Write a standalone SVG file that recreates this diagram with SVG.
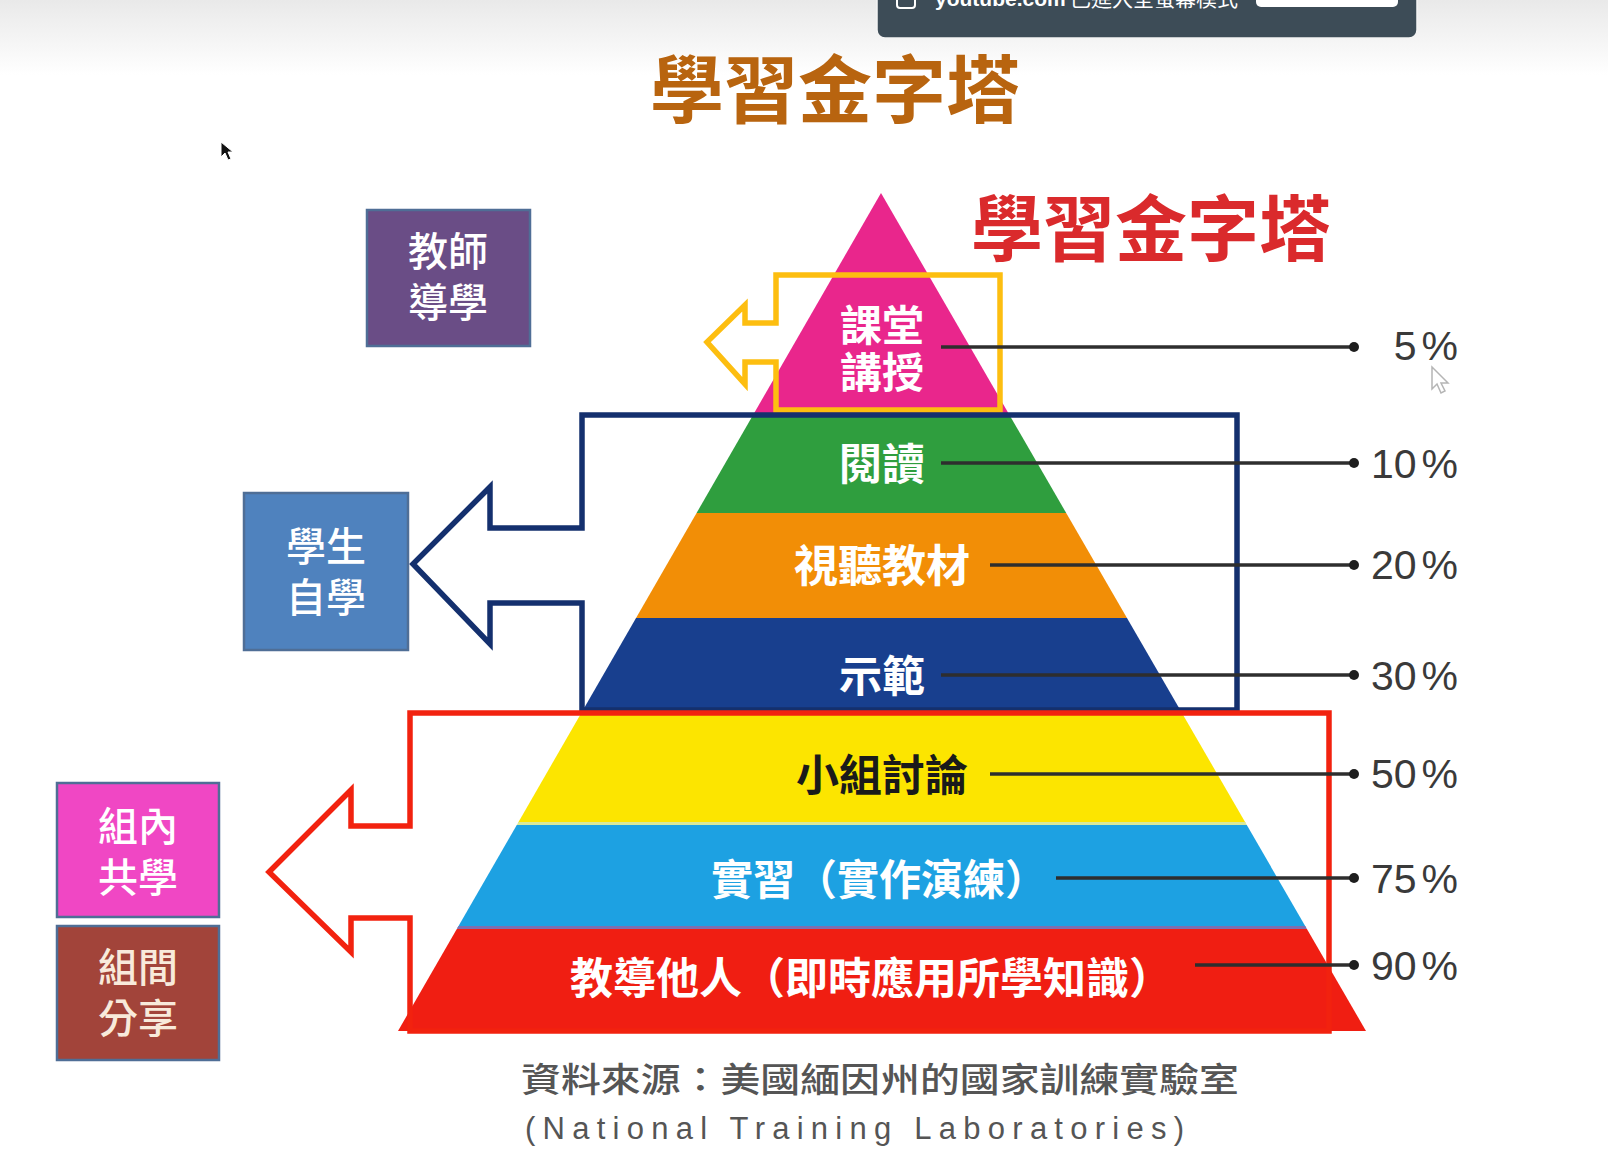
<svg xmlns="http://www.w3.org/2000/svg" width="1608" height="1163" viewBox="0 0 1608 1163">
  <style>
    .cjk { font-family: "Noto Sans CJK TC", "Noto Sans CJK SC", sans-serif; }
    .lbl { font-family: "Noto Sans CJK TC", "Noto Sans CJK SC", sans-serif; font-weight: 700; fill: #ffffff; text-anchor: middle; }
    .box { stroke: #4F6E96; stroke-width: 2.5; }
    .pct { font-family: "Liberation Sans", "Noto Sans", sans-serif; font-size: 41px; fill: #3a3a3a; text-anchor: end; }
    .lead { stroke: #2e2e2e; stroke-width: 3.5; fill: none; }
    .dot { fill: #1e1e1e; }
    .bracket { fill: none; stroke-width: 5.5; stroke-linejoin: miter; }
  </style>
  <defs>
    <linearGradient id="topfade" x1="0" y1="0" x2="0" y2="1">
      <stop offset="0" stop-color="#e9e9e9"/>
      <stop offset="1" stop-color="#ffffff"/>
    </linearGradient>
    <clipPath id="tri">
      <polygon points="881,193 398,1031 1366,1031"/>
    </clipPath>
  </defs>

  <rect x="0" y="0" width="1608" height="1163" fill="#ffffff"/>
  <rect x="0" y="0" width="1608" height="75" fill="url(#topfade)"/>

  <!-- top notification banner (cut off) -->
  <g id="banner">
    <rect x="877" y="-14" width="540" height="52" rx="8" fill="#3D4C57" stroke="#f4f4f4" stroke-width="1.5"/>
    <rect x="897" y="-12" width="18" height="20" rx="3" fill="none" stroke="#ffffff" stroke-width="2"/>
    <text x="935" y="6" font-family="Liberation Sans, sans-serif" font-weight="700" font-size="21" fill="#ffffff">youtube.com</text>
    <text x="1070" y="6" class="cjk" font-size="21" fill="#ffffff">已進入全螢幕模式</text>
    <rect x="1256" y="-20" width="142" height="27" rx="5" fill="#ffffff"/>
  </g>

  <!-- main titles -->
  <g id="title-main">
    <text x="835" y="117" class="cjk" font-size="74" font-weight="700" fill="#B8640F" text-anchor="middle">學習金字塔</text>
  </g>
  <g id="title-second">
    <text x="1151" y="255" class="cjk" font-size="72" font-weight="700" fill="#DA2A2C" text-anchor="middle">學習金字塔</text>
  </g>

  <!-- pyramid -->
  <g id="pyramid" clip-path="url(#tri)">
    <g id="band-lecture"><rect x="380" y="190" width="1000" height="224" fill="#E9268C"/></g>
    <g id="band-reading"><rect x="380" y="414" width="1000" height="99" fill="#2F9E3E"/></g>
    <g id="band-av"><rect x="380" y="513" width="1000" height="105" fill="#F28E06"/></g>
    <g id="band-demo"><rect x="380" y="618" width="1000" height="95" fill="#183F8E"/></g>
    <g id="band-discussion"><rect x="380" y="713" width="1000" height="110" fill="#FCE500"/></g>
    <rect x="380" y="822" width="1000" height="3" fill="#D8E89A"/>
    <g id="band-practice"><rect x="380" y="825" width="1000" height="103" fill="#1DA1E2"/></g>
    <rect x="380" y="926" width="1000" height="3" fill="#7C6FB0"/>
    <g id="band-teach"><rect x="380" y="929" width="1000" height="104" fill="#F01E12"/></g>
  </g>

  <!-- pyramid labels -->
  <g id="pyramid-labels">
    <text x="882" y="341" class="lbl" font-size="42">課堂</text>
    <text x="882" y="388" class="lbl" font-size="42">講授</text>
    <text x="882" y="480" class="lbl" font-size="43">閱讀</text>
    <text x="882" y="582" class="lbl" font-size="44">視聽教材</text>
    <text x="882" y="692" class="lbl" font-size="43">示範</text>
    <text x="882" y="791" class="lbl" font-size="43" style="fill:#1a1a1a">小組討論</text>
    <text x="879" y="895" class="lbl" font-size="42">實習（實作演練）</text>
    <text x="871" y="994" class="lbl" font-size="43">教導他人（即時應用所學知識）</text>
  </g>

  <!-- side boxes -->
  <g id="box-teacher">
    <rect x="367" y="210" width="163" height="136" class="box" fill="#6A4D86"/>
    <text x="448" y="266" class="lbl" font-size="40" style="font-weight:500">教師</text>
    <text x="448" y="317" class="lbl" font-size="40" style="font-weight:500">導學</text>
  </g>
  <g id="box-self">
    <rect x="244" y="493" width="164" height="157" class="box" fill="#4F82BE"/>
    <text x="326" y="561" class="lbl" font-size="40" style="font-weight:500">學生</text>
    <text x="326" y="612" class="lbl" font-size="40" style="font-weight:500">自學</text>
  </g>
  <g id="box-ingroup">
    <rect x="57" y="783" width="162" height="134" class="box" fill="#F047C4"/>
    <text x="138" y="841" class="lbl" font-size="40" style="font-weight:500">組內</text>
    <text x="138" y="892" class="lbl" font-size="40" style="font-weight:500">共學</text>
  </g>
  <g id="box-intergroup">
    <rect x="57" y="926" width="162" height="134" class="box" fill="#A2443A"/>
    <text x="138" y="982" class="lbl" font-size="40" style="font-weight:500;fill:#F8EADB">組間</text>
    <text x="138" y="1033" class="lbl" font-size="40" style="font-weight:500;fill:#F8EADB">分享</text>
  </g>

  <!-- connectors: bracket arrows and leader lines -->
  <g id="connectors">
    <path class="bracket" stroke="#FDBE10" d="M776,275 L1000,275 L1000,410 L776,410 L776,362 L745,362 L745,384 L707,342 L745,305 L745,323 L776,323 Z"/>
    <path class="bracket" stroke="#14306E" d="M582,415 L1237,415 L1237,710 L582,710 L582,603 L490,603 L490,644 L413,564 L490,487 L490,528 L582,528 Z"/>
    <path class="bracket" stroke="#F2220F" d="M410,713 L1329,713 L1329,1031 L410,1031 L410,918 L351,918 L351,952 L269,872 L351,790 L351,826 L410,826 Z"/>

    <line class="lead" x1="941" y1="347" x2="1353" y2="347"/>
    <circle class="dot" cx="1354" cy="347" r="5"/>
    <line class="lead" x1="941" y1="463" x2="1353" y2="463"/>
    <circle class="dot" cx="1354" cy="463" r="5"/>
    <line class="lead" x1="990" y1="565" x2="1353" y2="565"/>
    <circle class="dot" cx="1354" cy="565" r="5"/>
    <line class="lead" x1="941" y1="675" x2="1353" y2="675"/>
    <circle class="dot" cx="1354" cy="675" r="5"/>
    <line class="lead" x1="990" y1="774" x2="1353" y2="774"/>
    <circle class="dot" cx="1354" cy="774" r="5"/>
    <line class="lead" x1="1056" y1="878" x2="1353" y2="878"/>
    <circle class="dot" cx="1354" cy="878" r="5"/>
    <line class="lead" x1="1195" y1="965" x2="1353" y2="965"/>
    <circle class="dot" cx="1354" cy="965" r="5"/>
  </g>

  <!-- percentages -->
  <g id="percentages">
    <text x="1458" y="360" class="pct">5<tspan dx="5">%</tspan></text>
    <text x="1458" y="478" class="pct">10<tspan dx="5">%</tspan></text>
    <text x="1458" y="579" class="pct">20<tspan dx="5">%</tspan></text>
    <text x="1458" y="690" class="pct">30<tspan dx="5">%</tspan></text>
    <text x="1458" y="788" class="pct">50<tspan dx="5">%</tspan></text>
    <text x="1458" y="893" class="pct">75<tspan dx="5">%</tspan></text>
    <text x="1458" y="980" class="pct">90<tspan dx="5">%</tspan></text>
  </g>

  <!-- source note -->
  <g id="source">
    <text x="521" y="1092" class="cjk" font-size="34" font-weight="500" fill="#555555" textLength="718" lengthAdjust="spacingAndGlyphs">資料來源：美國緬因州的國家訓練實驗室</text>
    <text x="525" y="1139" font-family="Liberation Sans, sans-serif" font-size="31" fill="#555555" textLength="659" lengthAdjust="spacing">(National Training Laboratories)</text>
  </g>

  <!-- mouse cursors -->
  <g id="cursors">
    <polygon points="221,142 221,157 225,153 228,160 231,159 228,152 233,152" fill="#111111" stroke="#ffffff" stroke-width="1"/>
    <polygon points="1432,367 1432,389 1437,384 1441,393 1445,391 1441,383 1448,383" fill="#ffffff" stroke="#b5b5b5" stroke-width="1.5"/>
  </g>
</svg>
